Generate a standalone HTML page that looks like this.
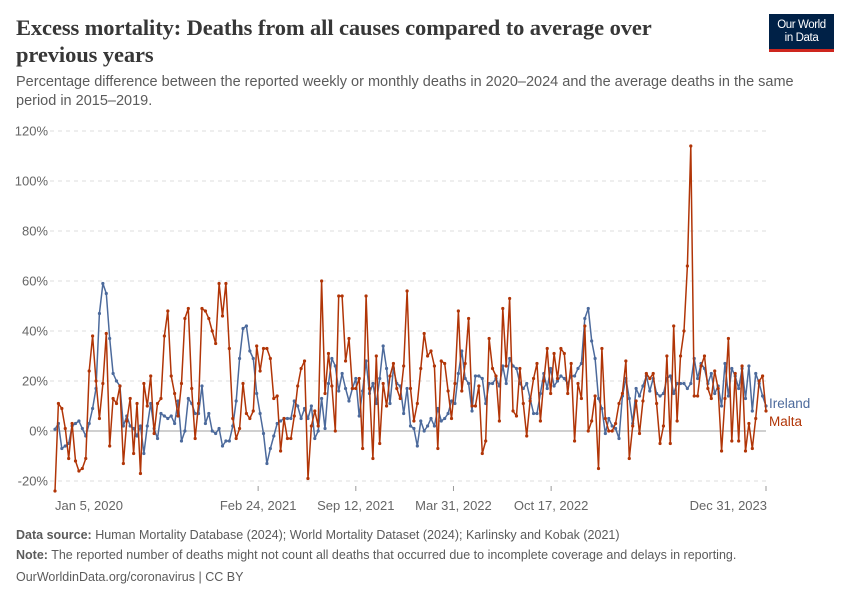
<!DOCTYPE html>
<html><head><meta charset="utf-8"><style>
body{margin:0;background:#fff;font-family:"Liberation Sans",sans-serif;}
#wrap{position:relative;width:850px;height:600px;overflow:hidden;}
.t{position:absolute;white-space:nowrap;}
</style></head><body>
<div id="wrap">
<div class="t" style="left:16px;top:14px;font-family:'Liberation Serif',serif;font-weight:bold;font-size:22.5px;line-height:27px;color:#373737;letter-spacing:-0.1px">Excess mortality: Deaths from all causes compared to average over<br>previous years</div>
<div class="t" style="left:16px;top:73px;font-size:14.5px;line-height:19px;color:#5b5b5b">Percentage difference between the reported weekly or monthly deaths in 2020–2024 and the average deaths in the same<br>period in 2015–2019.</div>
<div style="position:absolute;left:769px;top:14px;width:65px;height:38px;background:#002147;border-bottom:3px solid #ce261e;box-sizing:border-box;color:#fff;font-size:11.5px;line-height:13px;text-align:center;padding-top:5px;letter-spacing:-0.4px">Our World<br>in Data</div>
<svg id="chart" width="850" height="600" style="position:absolute;left:0;top:0"></svg>
<div class="t" style="left:16px;top:528px;font-size:12.5px;color:#5b5b5b"><b>Data source:</b> Human Mortality Database (2024); World Mortality Dataset (2024); Karlinsky and Kobak (2021)</div>
<div class="t" style="left:16px;top:548px;font-size:12.5px;color:#5b5b5b"><b>Note:</b> The reported number of deaths might not count all deaths that occurred due to incomplete coverage and delays in reporting.</div>
<div class="t" style="left:16px;top:570px;font-size:12.5px;color:#5b5b5b">OurWorldinData.org/coronavirus | CC BY</div>
</div>
<script>
const yTicks=[-20,0,20,40,60,80,100,120];
const yTickLabels=["-20%","0%","20%","40%","60%","80%","100%","120%"];
const xTickDates=["2020-01-05","2021-02-24","2021-09-12","2022-03-31","2022-10-17","2023-12-31"];
const xTickLabels=["Jan 5, 2020","Feb 24, 2021","Sep 12, 2021","Mar 31, 2022","Oct 17, 2022","Dec 31, 2023"];
const ireland=[0.7,3,-7,-6,-5,2,3,4,1,-2,3,9,17,47,59,55,37,23,20,18,2,6,2,1,-2,2,-9,2,11,1,-3,7,6,5,6,3,
12,-4,0,13,11,7,7,18,3,7,0,-1,1,-6,-4,-4,2,12,29,41,42,32,29,15,7,-1,-13,-7,-2,3,4,5,5,5,12,
10,5,9,5,10,-3,0,13,1,19,29,26,16,23,17,12,17,21,6,16,28,15,19,11,21,34,25,11,25,19,18,7,17,2,1,
-6,4,0,2,5,2,9,4,5,7,12,11,23,32,21,19,8,22,22,21,11,19,19,21,18,26,19,29,26,25,19,17,19,13,7,
7,15,23,17,25,18,20,22,21,19,22,22,25,27,45,49,36,29,13,9,-1,5,2,1,-3,14,21,13,3,17,14,18,22,16,21,
15,14,15,21,22,15,19,19,19,17,19,29,21,27,25,19,23,15,18,10,27,14,25,22,17,25,13,26,8,23,19,14,10];
const malta=[-24,11,9,1,-11,3,-12,-16,-15,-11,24,38,20,5,19,39,-6,13,11,18,-13,4,13,-9,11,-17,19,10,22,-1,11,13,38,48,22,15,
6,19,45,49,17,-3,11,49,48,45,40,35,59,46,59,33,5,-3,1,19,7,5,8,34,24,33,33,29,13,14,-8,5,-3,-3,6,
18,25,28,-19,2,8,2,60,15,31,18,0,54,54,28,37,17,17,21,-7,54,17,-11,30,-5,19,10,22,27,17,13,26,56,17,4,
11,25,39,30,32,26,-7,28,27,16,5,19,48,16,27,45,10,10,18,-9,-4,37,25,22,4,49,26,53,8,6,25,11,-2,12,21,
27,4,20,33,15,31,21,33,31,15,27,-4,19,13,42,0,4,14,-15,33,5,0,0,3,11,15,28,-11,2,12,-1,12,23,21,23,
11,-5,2,30,-5,42,4,30,40,66,114,14,14,26,30,17,13,24,17,-8,13,37,-4,23,-4,26,-8,3,-7,5,20,22,8];
const NS='http://www.w3.org/2000/svg';
const svg=document.getElementById('chart');
const X0=55,X1=766;
const y=v=>431-v*2.5;
const d0=Date.parse("2020-01-05"),d1=Date.parse("2023-12-31");
const xd=s=>X0+(Date.parse(s)-d0)/(d1-d0)*(X1-X0);
const xi=(i,n)=>X0+i*(X1-X0)/(n-1);
function mk(tag,attrs){const e=document.createElementNS(NS,tag);for(const k in attrs)e.setAttribute(k,attrs[k]);svg.appendChild(e);return e;}
yTicks.forEach((v,i)=>{
  const l=mk('line',{x1:X0-5,x2:X1,y1:y(v),y2:y(v),stroke:v===0?'#a1a1a1':'#dddddd','stroke-dasharray':v===0?'none':'4,4','stroke-width':1});
  
  
  const t=mk('text',{x:48,y:y(v)+4.5,'text-anchor':'end','font-size':13,fill:'#666','font-family':'Liberation Sans, sans-serif'});
  t.textContent=yTickLabels[i];
  
  
});
xTickDates.forEach((d,i)=>{
  const x=xd(d);
  const tk=mk('line',{x1:x,x2:x,y1:486,y2:491,stroke:'#999'});
  
  
  const anchor=i===0?'start':(i===xTickDates.length-1?'end':'middle');
  const t=mk('text',{x:i===0?x:(i===xTickDates.length-1?x+1:x),y:510,'text-anchor':anchor,'font-size':13,fill:'#666','font-family':'Liberation Sans, sans-serif'});
  t.textContent=xTickLabels[i];
  
  
});
function series(data,color,name){
  const pts=data.map((v,i)=>xi(i,data.length).toFixed(1)+','+y(v).toFixed(1)).join(' ');
  const p=mk('polyline',{points:pts,fill:'none',stroke:color,'stroke-width':1.5,'stroke-linejoin':'round'});
  
  
  data.forEach((v,i)=>{
    const c=mk('circle',{cx:xi(i,data.length),cy:y(v),r:1.6,fill:color});
    
    
  });
}
series(ireland,'#4c6a9c','ireland');
series(malta,'#b13507','malta');
const l1=mk('text',{x:769,y:408,'font-size':13.5,fill:'#4c6a9c','font-family':'Liberation Sans, sans-serif'});
l1.textContent='Ireland';


const l2=mk('text',{x:769,y:426,'font-size':13.5,fill:'#b13507','font-family':'Liberation Sans, sans-serif'});
l2.textContent='Malta';


</script>
</body></html>
